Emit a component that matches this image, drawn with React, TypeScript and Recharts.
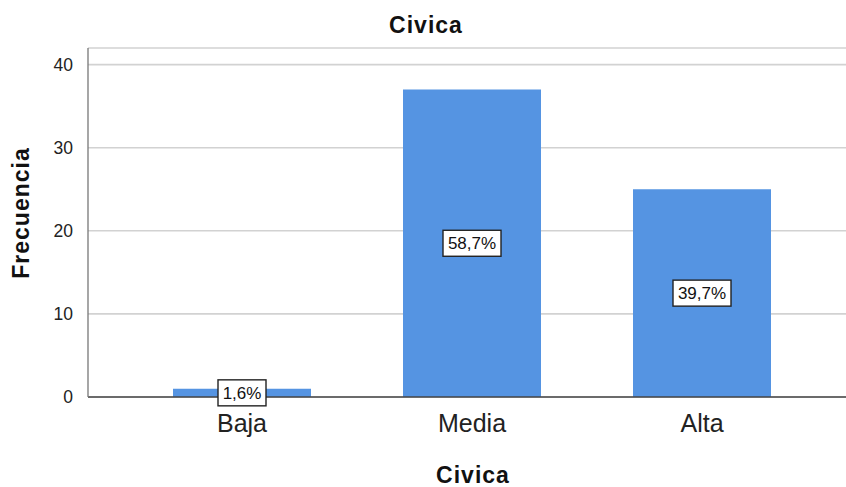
import { BarChart, Bar, XAxis, YAxis, CartesianGrid, LabelList } from "recharts";

const categories = ["Baja", "Media", "Alta"];
const frequencies = [1, 37, 25];
const percents = ["1,6%", "58,7%", "39,7%"];
const yTicks = [0, 10, 20, 30, 40];

const rows = categories.map((c, i) => ({ name: c, value: frequencies[i], pct: percents[i] }));

const FONT = "'Liberation Sans', Arial, sans-serif";

// caja blanca con borde para el porcentaje
const PctLabel = (props: any) => {
  const { x, y, width, height, index } = props;
  const txt = percents[index];
  const cx = x + width / 2;
  const cy = y + height / 2;
  const w = txt.length * 10 + 8;
  const h = 26;
  return (
    <g>
      <rect x={cx - w / 2} y={cy - h / 2} width={w} height={h} fill="#fff" stroke="#222" strokeWidth={1.4} />
      <text x={cx} y={cy + 6} textAnchor="middle" fontSize={17} fontFamily={FONT} fill="#111">
        {txt}
      </text>
    </g>
  );
};

const CatTick = (props: any) => {
  const { x, y, payload } = props;
  return (
    <text x={x} y={y + 27} textAnchor="middle" fontSize={25} fontFamily={FONT} fill="#222">
      {payload.value}
    </text>
  );
};

const titleStyle = {
  position: "absolute" as const,
  fontFamily: FONT,
  fontWeight: "bold" as const,
  fontSize: 23,
  lineHeight: "24px",
  color: "#111",
  letterSpacing: 1,
  whiteSpace: "nowrap" as const,
};

export default function App() {
  return (
    <div style={{ position: "relative", width: 846, height: 487, background: "#fff" }}>
      <style>{`body{margin:0}`}</style>
      <div style={{ ...titleStyle, left: 0, width: 852, top: 13, textAlign: "center" }}>Civica</div>
      <div style={{ ...titleStyle, left: 100, width: 746, top: 463, textAlign: "center" }}>Civica</div>
      <div
        style={{
          ...titleStyle,
          left: 21,
          top: 213,
          transform: "translate(-50%, -50%) rotate(-90deg)",
        }}
      >
        Frecuencia
      </div>
      <BarChart
        width={846}
        height={487}
        data={rows}
        margin={{ top: 48, right: 0, bottom: 60, left: 0 }}
      >
        <CartesianGrid vertical={false} stroke="#d2d2d2" strokeWidth={1.6} />
        <XAxis
          dataKey="name"
          height={30}
          padding={{ left: 39, right: 29 }}
          tickLine={false}
          axisLine={{ stroke: "#444", strokeWidth: 1.3 }}
          tick={<CatTick />}
        />
        <YAxis
          width={88}
          domain={[0, 42]}
          ticks={yTicks}
          tickLine={false}
          axisLine={{ stroke: "#777", strokeWidth: 1.3 }}
          tick={{ fill: "#222", fontSize: 17.5, fontFamily: FONT }}
          tickMargin={9}
        />
        <Bar dataKey="value" fill="#5594e2" barSize={138} isAnimationActive={false}>
          <LabelList dataKey="pct" content={PctLabel} />
        </Bar>
      </BarChart>
    </div>
  );
}
